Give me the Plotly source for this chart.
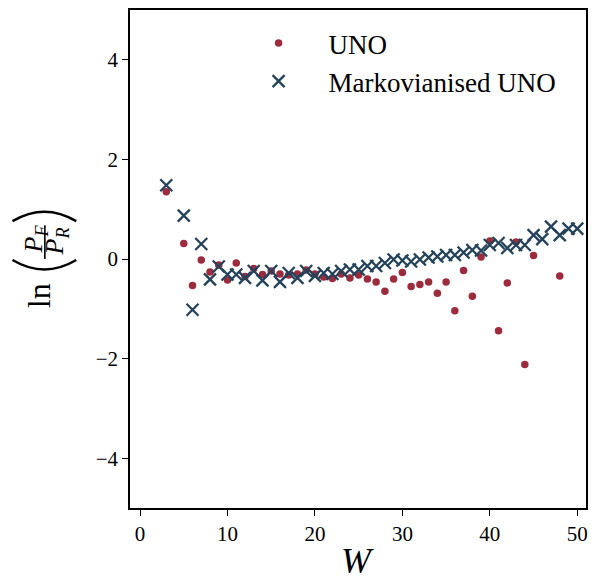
import plotly.graph_objects as go

# ---- data ----
w_uno = [3, 5, 6, 7, 8, 9, 10, 11, 12, 13, 14, 15, 16, 17, 18, 19, 20, 21, 22, 23, 24,
         25, 26, 27, 28, 29, 30, 31, 32, 33, 34, 35, 36, 37, 38, 39, 40, 41, 42, 43, 44, 45, 48]
ln_uno = [1.35, 0.31, -0.53, -0.02, -0.26, -0.12, -0.42, -0.08, -0.35, -0.19, -0.31, -0.24,
          -0.30, -0.32, -0.30, -0.22, -0.30, -0.36, -0.39, -0.30, -0.38, -0.32, -0.40, -0.46,
          -0.65, -0.40, -0.27, -0.55, -0.51, -0.46, -0.69, -0.46, -1.04, -0.23, -0.75, 0.04,
          0.36, -1.44, -0.48, 0.34, -2.12, 0.07, -0.34]

w_markov = [3, 5, 6, 7, 8, 9, 10, 11, 12, 13, 14, 15, 16, 17, 18, 19, 20, 21, 22, 23, 24,
            25, 26, 27, 28, 29, 30, 31, 32, 33, 34, 35, 36, 37, 38, 39, 40, 41, 42, 43, 44,
            45, 46, 47, 48, 49, 50]
ln_markov = [1.48, 0.87, -1.02, 0.30, -0.41, -0.15, -0.31, -0.31, -0.38, -0.24, -0.43, -0.24,
             -0.46, -0.28, -0.38, -0.24, -0.34, -0.28, -0.30, -0.24, -0.21, -0.21, -0.14, -0.14,
             -0.08, -0.01, -0.03, -0.05, -0.01, 0.03, 0.05, 0.08, 0.08, 0.13, 0.18, 0.17, 0.28,
             0.32, 0.22, 0.28, 0.28, 0.48, 0.40, 0.65, 0.48, 0.61, 0.61]

x_ticks = [0, 10, 20, 30, 40, 50]
y_ticks = [-4, -2, 0, 2, 4]
series_names = ["UNO", "Markovianised UNO"]

RED = "#9c2b3d"
BLUE = "#24435a"
FONT = "Liberation Serif"

W, H = 596, 581
L, R, T, B = 130, 8, 8, 73
PW, PH = W - L - R, H - T - B


def px(xp):
    return (xp - L) / PW


def py(yp):
    return (H - B - yp) / PH


fig = go.Figure()
fig.add_trace(go.Scatter(
    x=w_uno, y=ln_uno, mode="markers", name=series_names[0],
    marker=dict(symbol="circle", size=7.5, color=RED, line=dict(width=0)),
))
fig.add_trace(go.Scatter(
    x=w_markov, y=ln_markov, mode="markers", name=series_names[1],
    marker=dict(symbol="x-thin", size=12, color=BLUE, line=dict(width=2.3, color=BLUE)),
))

axis_common = dict(
    showgrid=False, zeroline=False, showline=True, linecolor="black", linewidth=1.5,
    mirror=True, ticks="outside", ticklen=6, tickwidth=1.4, tickcolor="black",
    tickfont=dict(family=FONT, size=21, color="black"),
)

fig.update_xaxes(range=[-1.15, 51.0], tickvals=x_ticks,
                 ticktext=[str(v) for v in x_ticks], **axis_common)
fig.update_yaxes(range=[-5, 5], tickvals=y_ticks,
                 ticktext=[("\u2212" + str(-v)) if v < 0 else str(v) for v in y_ticks],
                 **axis_common)

annotations = [
    # x-axis title
    dict(text="<i>W</i>", x=px(358), y=py(561), xref="paper", yref="paper",
         showarrow=False, font=dict(family=FONT, size=36, color="black"),
         xanchor="center", yanchor="middle"),
    # y-axis label: ln ( P_F / P_R )
    dict(text="ln", x=px(38), y=py(295), xref="paper", yref="paper", textangle=-90,
         showarrow=False, font=dict(family=FONT, size=32, color="black"),
         xanchor="center", yanchor="middle"),
    dict(text="<i>P</i><sub><i>F</i></sub>", x=px(35), y=py(238), xref="paper", yref="paper",
         textangle=-90, showarrow=False, font=dict(family=FONT, size=26, color="black"),
         xanchor="center", yanchor="middle"),
    dict(text="<i>P</i><sub><i>R</i></sub>", x=px(56), y=py(240), xref="paper", yref="paper",
         textangle=-90, showarrow=False, font=dict(family=FONT, size=26, color="black"),
         xanchor="center", yanchor="middle"),
]

shapes = [
    # fraction bar
    dict(type="line", xref="paper", yref="paper", x0=px(44.5), x1=px(44.5),
         y0=py(224), y1=py(258), line=dict(color="black", width=1.6)),
    # left paren (rotated): bulges downward
    dict(type="path", xref="paper", yref="paper",
         path=f"M {px(12)},{py(259)} Q {px(44)},{py(278)} {px(76)},{py(259)}",
         line=dict(color="black", width=2.4)),
    # right paren (rotated): bulges upward
    dict(type="path", xref="paper", yref="paper",
         path=f"M {px(12)},{py(220)} Q {px(44)},{py(201)} {px(76)},{py(220)}",
         line=dict(color="black", width=2.4)),
]

fig.update_layout(
    width=W, height=H,
    margin=dict(l=L, r=R, t=T, b=B),
    paper_bgcolor="white", plot_bgcolor="white",
    font=dict(family=FONT, color="black"),
    showlegend=True,
    legend=dict(x=px(229), y=py(17), xanchor="left", yanchor="top",
                bgcolor="rgba(255,255,255,0)", borderwidth=0,
                font=dict(family=FONT, size=27, color="black"),
                itemwidth=90, tracegroupgap=4),
    annotations=annotations,
    shapes=shapes,
)

fig.write_html("out.html", config={"displayModeBar": False},
               post_script="document.body.style.margin='0';")
